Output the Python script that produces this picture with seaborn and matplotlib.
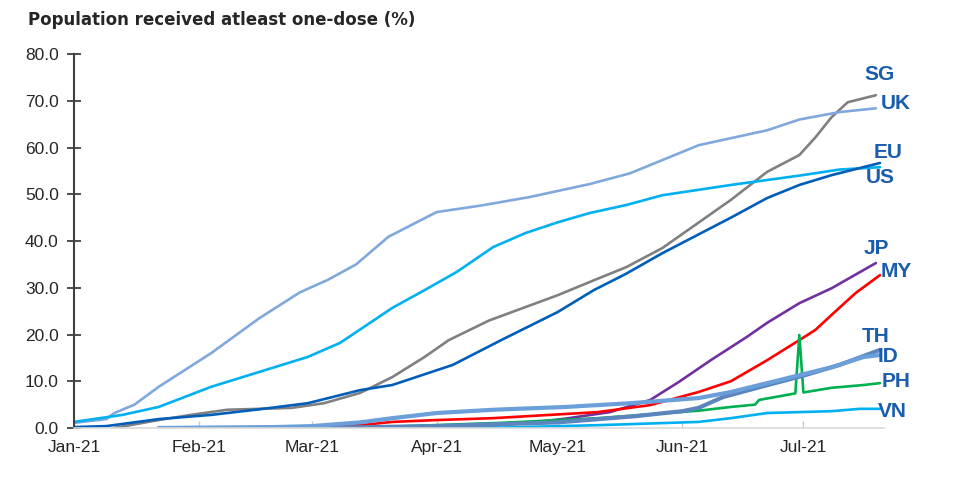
import matplotlib
matplotlib.use("Agg")
import matplotlib.pyplot as plt
import matplotlib.dates as mdates
import pandas as pd
import seaborn as sns

# --- data (date, % with at least one dose) ---
sg_dates = ["2021-01-11", "2021-01-22", "2021-01-30", "2021-02-08", "2021-02-24", "2021-03-04",
            "2021-03-13", "2021-03-21", "2021-03-29", "2021-04-04", "2021-04-14", "2021-05-01",
            "2021-05-10", "2021-05-18", "2021-05-27", "2021-06-13", "2021-06-22", "2021-06-30",
            "2021-07-04", "2021-07-08", "2021-07-12", "2021-07-19"]
sg_vals = [0.0, 1.7, 2.8, 3.9, 4.3, 5.3, 7.5, 10.9, 15.2, 18.8, 23.0, 28.4,
           31.6, 34.4, 38.5, 48.8, 54.8, 58.4, 62.2, 66.5, 69.7, 71.2]

uk_dates = ["2021-01-01", "2021-01-09", "2021-01-11", "2021-01-16", "2021-01-22", "2021-02-04",
            "2021-02-16", "2021-02-26", "2021-03-05", "2021-03-12", "2021-03-20", "2021-03-27",
            "2021-04-01", "2021-04-12", "2021-04-24", "2021-05-09", "2021-05-19", "2021-06-05",
            "2021-06-22", "2021-06-30", "2021-07-10", "2021-07-19"]
uk_vals = [1.1, 1.9, 3.2, 5.0, 8.8, 16.0, 23.5, 29.0, 31.7, 35.0, 40.9, 44.0,
           46.2, 47.6, 49.4, 52.2, 54.5, 60.5, 63.7, 66.0, 67.6, 68.4]

eu_dates = ["2021-01-01", "2021-01-09", "2021-01-13", "2021-01-22", "2021-02-04", "2021-02-16",
            "2021-02-28", "2021-03-08", "2021-03-12", "2021-03-21", "2021-03-29", "2021-04-06",
            "2021-04-15", "2021-04-23", "2021-05-01", "2021-05-09", "2021-05-18", "2021-05-27",
            "2021-06-13", "2021-06-30", "2021-07-10", "2021-07-20"]
eu_vals = [1.3, 2.3, 2.8, 4.5, 8.8, 12.0, 15.2, 18.2, 20.5, 25.7, 29.5, 33.4,
           38.7, 41.7, 44.0, 46.0, 47.7, 49.8, 52.0, 54.0, 55.3, 55.8]

us_dates = ["2021-01-01", "2021-01-09", "2021-01-22", "2021-02-04", "2021-02-16", "2021-02-28",
            "2021-03-13", "2021-03-21", "2021-04-05", "2021-04-17", "2021-05-01", "2021-05-10",
            "2021-05-18", "2021-05-27", "2021-06-13", "2021-06-22", "2021-06-30", "2021-07-08",
            "2021-07-20"]
us_vals = [0.2, 0.4, 1.9, 2.8, 4.0, 5.3, 8.1, 9.2, 13.5, 18.8, 24.8, 29.5,
           33.0, 37.4, 45.0, 49.2, 52.0, 54.1, 56.7]

jp_dates = ["2021-02-17", "2021-04-01", "2021-04-15", "2021-04-25", "2021-05-03", "2021-05-14",
            "2021-05-24", "2021-05-31", "2021-06-08", "2021-06-17", "2021-06-22", "2021-06-30",
            "2021-07-08", "2021-07-19"]
jp_vals = [0.0, 0.2, 0.5, 1.2, 2.0, 3.4, 6.0, 9.8, 14.5, 19.5, 22.5, 26.7, 29.9, 35.3]

my_dates = ["2021-02-27", "2021-03-13", "2021-03-21", "2021-04-01", "2021-04-15", "2021-05-11",
            "2021-05-24", "2021-06-05", "2021-06-13", "2021-06-22", "2021-06-30", "2021-07-04",
            "2021-07-08", "2021-07-14", "2021-07-20"]
my_vals = [0.0, 0.6, 1.3, 1.7, 2.1, 3.4, 4.9, 7.7, 10.0, 14.5, 18.8, 21.0, 24.2, 28.9, 32.7]

th_dates = ["2021-02-28", "2021-04-01", "2021-05-01", "2021-05-20", "2021-06-01", "2021-06-05",
            "2021-06-11", "2021-06-20", "2021-07-01", "2021-07-10", "2021-07-20"]
th_vals = [0.0, 0.4, 1.2, 2.5, 3.6, 4.3, 6.6, 8.7, 11.2, 13.5, 16.7]

id_dates = ["2021-01-22", "2021-02-20", "2021-03-01", "2021-03-13", "2021-03-21", "2021-04-01",
            "2021-04-15", "2021-05-03", "2021-05-19", "2021-06-05", "2021-06-13", "2021-06-22",
            "2021-06-30", "2021-07-08", "2021-07-16", "2021-07-20"]
id_vals = [0.0, 0.2, 0.4, 1.2, 2.1, 3.2, 3.9, 4.5, 5.3, 6.4, 7.7, 9.6, 11.3, 13.0, 15.2, 15.6]

ph_dates = ["2021-03-01", "2021-03-21", "2021-04-17", "2021-05-11", "2021-06-05", "2021-06-13",
            "2021-06-19", "2021-06-20", "2021-06-29", "2021-06-30", "2021-07-01", "2021-07-08",
            "2021-07-16", "2021-07-20"]
ph_vals = [0.0, 0.3, 1.1, 2.1, 3.7, 4.5, 5.0, 6.0, 7.4, 19.9, 7.6, 8.6, 9.2, 9.6]

vn_dates = ["2021-03-08", "2021-04-17", "2021-05-11", "2021-06-05", "2021-06-13", "2021-06-22",
            "2021-06-30", "2021-07-08", "2021-07-15", "2021-07-20"]
vn_vals = [0.0, 0.1, 0.6, 1.3, 2.1, 3.2, 3.4, 3.6, 4.1, 4.1]

# series: (name, dates, values, colour, width)
series = [
    ("SG", sg_dates, sg_vals, "#808080", 1.9),
    ("UK", uk_dates, uk_vals, "#80A8DC", 1.9),
    ("EU", eu_dates, eu_vals, "#00B0F0", 1.9),
    ("US", us_dates, us_vals, "#005EB8", 1.9),
    ("JP", jp_dates, jp_vals, "#7030A0", 1.9),
    ("MY", my_dates, my_vals, "#FF0000", 1.9),
    ("PH", ph_dates, ph_vals, "#00B050", 1.9),
    ("VN", vn_dates, vn_vals, "#00B0F0", 1.9),
    ("TH", th_dates, th_vals, "#5B85BD", 3.0),
    ("ID", id_dates, id_vals, "#6B9FDA", 3.0),
]

# end labels (date, value) next to each line
label_names = ["SG", "UK", "EU", "US", "JP", "MY", "TH", "ID", "PH", "VN"]
label_dates = ["2021-07-20", "2021-07-24", "2021-07-22", "2021-07-20", "2021-07-19",
               "2021-07-24", "2021-07-19", "2021-07-22", "2021-07-24", "2021-07-23"]
label_vals = [75.7, 69.5, 59.0, 53.7, 38.5, 33.4, 19.5, 15.2, 10.0, 3.6]

sns.set_style("white")
plt.rcParams["font.family"] = ["Liberation Sans", "DejaVu Sans"]

fig = plt.figure(figsize=(9.54, 4.83), dpi=100)
ax = fig.add_axes([0.0776, 0.1139, 0.8490, 0.7741])

for name, dates, vals, color, lw in series:
    df = pd.DataFrame({"date": pd.to_datetime(dates), "pct": vals})
    sns.lineplot(data=df, x="date", y="pct", ax=ax, color=color, linewidth=lw)

for name, d, v in zip(label_names, label_dates, label_vals):
    ax.text(pd.Timestamp(d), v, name, ha="center", va="center", fontsize=15,
            fontweight="bold", color="#1A5DAB", clip_on=False)

ax.set_xlim(pd.Timestamp("2021-01-01"), pd.Timestamp("2021-07-21"))
ax.set_ylim(0, 80)
ax.set_yticks(range(0, 81, 10))
ax.yaxis.set_major_formatter(matplotlib.ticker.FormatStrFormatter("%.1f"))
ax.xaxis.set_major_locator(mdates.MonthLocator())
ax.xaxis.set_major_formatter(mdates.DateFormatter("%b-%y"))
ax.set_xlabel("")
ax.set_ylabel("")

for s in ["top", "right"]:
    ax.spines[s].set_visible(False)
ax.spines["left"].set_color("#404040")
ax.spines["left"].set_linewidth(1.5)
ax.spines["bottom"].set_color("#D9D9D9")
ax.spines["bottom"].set_linewidth(1.2)

ax.tick_params(axis="y", direction="inout", length=10, width=1.3, color="#404040",
               labelsize=12.5, pad=6, left=True)
ax.tick_params(axis="x", direction="in", length=5, width=1.0, color="#C8C8C8",
               labelsize=12.5, pad=9, bottom=True)

fig.text(28 / 954, 1 - 20 / 483, "Population received atleast one-dose (%)",
         fontsize=12, fontweight="bold", ha="left", va="center",
         family=["DejaVu Sans"])

fig.savefig("out.png", dpi=100)
